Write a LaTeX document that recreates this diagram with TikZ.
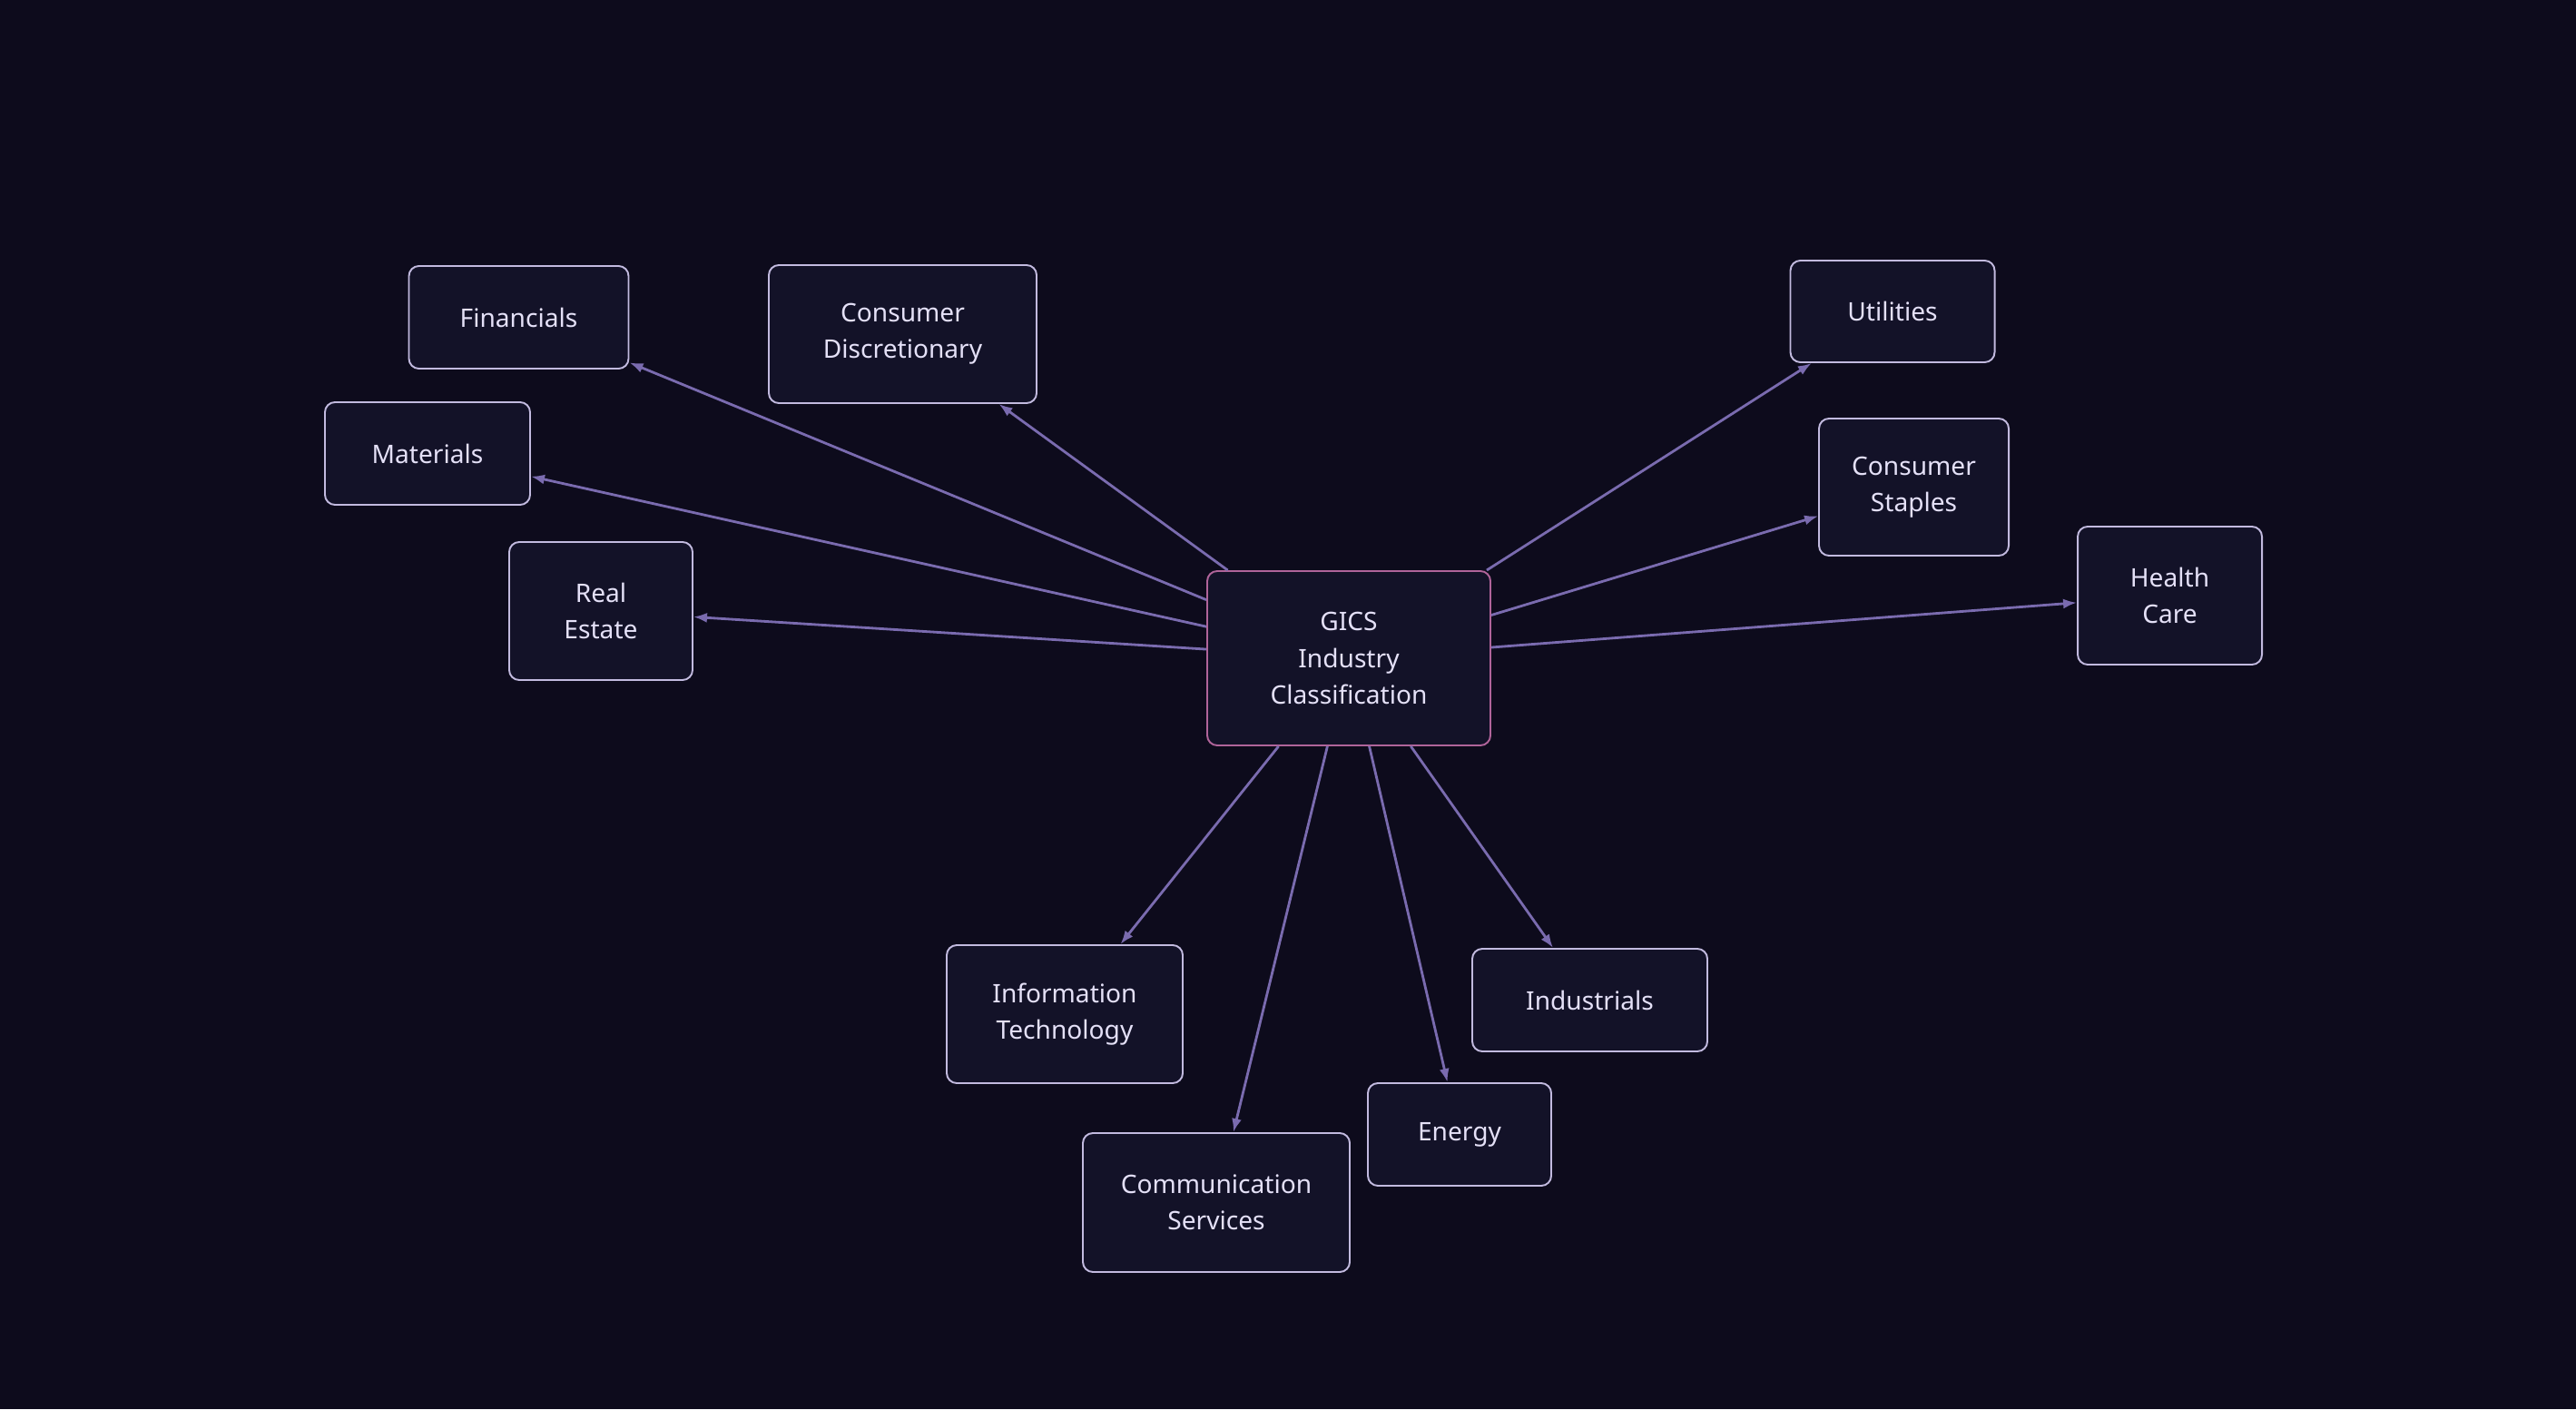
\documentclass[tikz,border=0pt]{standalone}
\usepackage{fontspec}
\setmainfont{Noto Sans}
\usetikzlibrary{arrows.meta}

\definecolor{bgdark}{HTML}{0D0B1C}
\definecolor{boxfill}{HTML}{131228}
\definecolor{boxline}{HTML}{C2BADF}
\definecolor{hubline}{HTML}{B0649A}
\definecolor{linkline}{HTML}{7A6BAF}
\definecolor{labeltext}{HTML}{E4E0F7}

\begin{document}
\begin{tikzpicture}[
	sector/.style={draw=boxline, line width=0.55pt, fill=boxfill, rounded corners=0.11cm,
		text=labeltext, align=center, inner sep=0pt, font=\fontsize{8}{11.4}\selectfont},
	hub/.style={sector, draw=hubline},
	link/.style={draw=linkline, line width=0.8pt, -{Latex[length=0.15cm, width=0.11cm]}}
]

% Background.

	\fill[bgdark] (0,0) rectangle (28.38,15.52);
	\useasboundingbox (0,0) rectangle (28.38,15.52);

% Draw nodes.

	%hub
	\node[hub, minimum width=3.12cm, minimum height=1.92cm] (gics) at (14.86, 8.27) {GICS\\Industry\\Classification};

	%left side
	\node[sector, minimum width=2.42cm, minimum height=1.13cm] (fin) at (5.715, 12.025) {Financials};
	\node[sector, minimum width=2.95cm, minimum height=1.52cm] (cdisc) at (9.945, 11.84) {Consumer\\Discretionary};
	\node[sector, minimum width=2.26cm, minimum height=1.13cm] (mat) at (4.71, 10.525) {Materials};
	\node[sector, minimum width=2.02cm, minimum height=1.52cm] (realest) at (6.62, 8.79) {Real\\Estate};

	%right side
	\node[sector, minimum width=2.25cm, minimum height=1.12cm] (util) at (20.85, 12.09) {Utilities};
	\node[sector, minimum width=2.09cm, minimum height=1.51cm] (cstap) at (21.085, 10.155) {Consumer\\Staples};
	\node[sector, minimum width=2.03cm, minimum height=1.52cm] (health) at (23.905, 8.96) {Health\\Care};

	%bottom
	\node[sector, minimum width=2.60cm, minimum height=1.52cm] (infotech) at (11.73, 4.35) {Information\\Technology};
	\node[sector, minimum width=2.59cm, minimum height=1.13cm] (indus) at (17.515, 4.505) {Industrials};
	\node[sector, minimum width=2.94cm, minimum height=1.53cm] (comm) at (13.40, 2.275) {Communication\\Services};
	\node[sector, minimum width=2.02cm, minimum height=1.13cm] (energy) at (16.08, 3.025) {Energy};

% Draw links.

	\draw[link] (gics) -- (fin);
	\draw[link] (gics) -- (cdisc);
	\draw[link] (gics) -- (mat);
	\draw[link] (gics) -- (realest);
	\draw[link] (gics) -- (util);
	\draw[link] (gics) -- (cstap);
	\draw[link] (gics) -- (health);
	\draw[link] (gics) -- (infotech);
	\draw[link] (gics) -- (indus);
	\draw[link] (gics) -- (comm);
	\draw[link] (gics) -- (energy);

\end{tikzpicture}
\end{document}
